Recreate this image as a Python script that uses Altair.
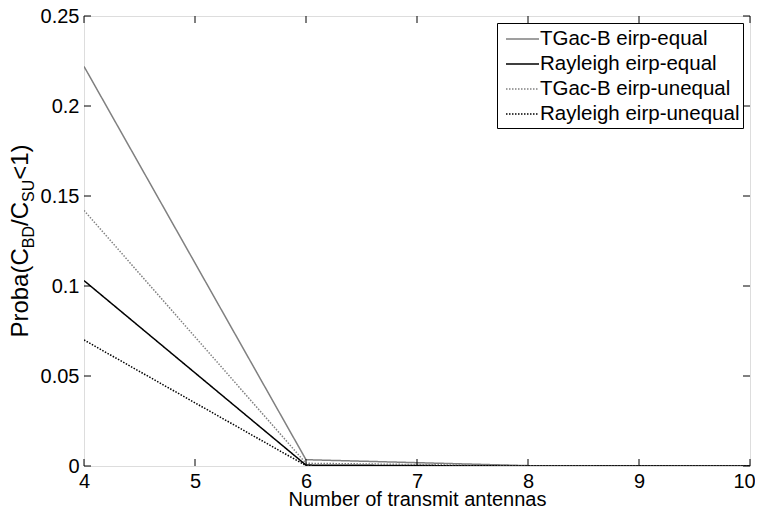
import altair as alt
import pandas as pd

# ---- data ----
antennas = [4, 6, 8, 10]
tgac_equal = [0.222, 0.0035, 0.0002, 0.0]
rayleigh_equal = [0.103, 0.0005, 0.0, 0.0]
tgac_unequal = [0.142, 0.0015, 0.0001, 0.0]
rayleigh_unequal = [0.070, 0.0002, 0.0, 0.0]

series_names = ["TGac-B eirp-equal", "Rayleigh eirp-equal",
                "TGac-B eirp-unequal", "Rayleigh eirp-unequal"]
series_colors = ["#808080", "#000000", "#808080", "#000000"]
series_dashes = [[1, 0], [1, 0], [1.5, 1.5], [1.5, 1.5]]

x_ticks = [4, 5, 6, 7, 8, 9, 10]
y_ticks = [0, 0.05, 0.1, 0.15, 0.2, 0.25]

# y-axis title pieces (text, size, subscript flag)
ytitle_text = ["Proba(C", "BD", "/C", "SU", "<1)"]
ytitle_size = [24, 16, 24, 16, 24]
ytitle_sub = [0, 1, 0, 1, 0]

W, H = 666, 450
FONT = "Liberation Sans"
TICK = 7

rows = []
for name, vals in zip(series_names, [tgac_equal, rayleigh_equal, tgac_unequal, rayleigh_unequal]):
    for a, v in zip(antennas, vals):
        rows.append({"series": name, "antennas": a, "proba": v})
df = pd.DataFrame(rows)

xscale = alt.Scale(domain=[4, 10], nice=False, zero=False)
yscale = alt.Scale(domain=[0, 0.25], nice=False)

lines = alt.Chart(df).mark_line(strokeWidth=1.5, clip=True).encode(
    x=alt.X("antennas:Q", scale=xscale,
            axis=alt.Axis(values=x_ticks, title="Number of transmit antennas", format="d",
                          grid=False, domain=False, ticks=False, labelFontSize=20,
                          labelPadding=5, titleFontSize=20, titleFontWeight="normal",
                          titlePadding=-1.5, labelColor="black", titleColor="black",
                          labelFlush=False,
                          labelOffset={"condition": {"test": "datum.value == 10", "value": -6},
                                       "value": 0})),
    y=alt.Y("proba:Q", scale=yscale,
            axis=alt.Axis(values=y_ticks, title="", format=".2~f", grid=False,
                          domain=False, ticks=False, labelFontSize=20, labelPadding=5,
                          labelColor="black")),
    color=alt.Color("series:N", title=None,
                    scale=alt.Scale(domain=series_names, range=series_colors),
                    legend=alt.Legend(orient="none", legendX=413, legendY=7,
                                      symbolType="M-1.375,0H1.375", symbolSize=576,
                                      symbolOffset=9.5, symbolFillColor="transparent",
                                      symbolStrokeWidth=1.5, labelFontSize=20.5,
                                      labelColor="black", labelOffset=4.5,
                                      strokeColor="black", fillColor="white",
                                      padding=3, rowPadding=1, labelLimit=400)),
    strokeDash=alt.StrokeDash("series:N", title=None,
                              scale=alt.Scale(domain=series_names, range=series_dashes)),
    order=alt.Order("series:N"),
)

xt = pd.DataFrame({"t": x_ticks})
yt = pd.DataFrame({"t": y_ticks})

xticks_bottom = alt.Chart(xt).mark_rule(color="black", strokeWidth=1).encode(
    x=alt.X("t:Q", scale=xscale), y=alt.value(H), y2=alt.value(H - TICK))
xticks_top = alt.Chart(xt).mark_rule(color="black", strokeWidth=1).encode(
    x=alt.X("t:Q", scale=xscale), y=alt.value(0), y2=alt.value(TICK))
yticks_left = alt.Chart(yt).mark_rule(color="black", strokeWidth=1).encode(
    y=alt.Y("t:Q", scale=yscale), x=alt.value(0), x2=alt.value(TICK))
yticks_right = alt.Chart(yt).mark_rule(color="black", strokeWidth=1).encode(
    y=alt.Y("t:Q", scale=yscale), x=alt.value(W), x2=alt.value(W - TICK))

# y title assembled from pieces with subscripts
em = {"P": .667, "r": .333, "o": .556, "b": .556, "a": .556, "(": .333, "C": .722,
      "B": .667, "D": .722, "/": .278, "S": .667, "U": .722, "<": .584, "1": .556,
      ")": .333}
widths = [sum(em[c] for c in t) * s for t, s in zip(ytitle_text, ytitle_size)]
total = sum(widths)
pos = H / 2 + total / 2
title_layers = []
for t, s, sub, w in zip(ytitle_text, ytitle_size, ytitle_sub, widths):
    tdf = pd.DataFrame({"label": [t]})
    title_layers.append(
        alt.Chart(tdf).mark_text(angle=270, align="left", baseline="middle",
                                 fontSize=s, font=FONT, color="black").encode(
            text="label:N", x=alt.value(-63 + (8 if sub else 0)), y=alt.value(pos))
    )
    pos -= w

chart = alt.layer(lines, xticks_bottom, xticks_top, yticks_left, yticks_right,
                  *title_layers).properties(
    width=W, height=H,
    autosize=alt.AutoSizeParams(type="none"),
    padding={"left": 76, "top": 8, "right": 5, "bottom": 41},
    background="white",
).configure_view(stroke="black", strokeWidth=1).configure(
    font=FONT
).resolve_scale(x="shared", y="shared")

chart.save("out.html", embed_options={"renderer": "svg", "actions": False})
